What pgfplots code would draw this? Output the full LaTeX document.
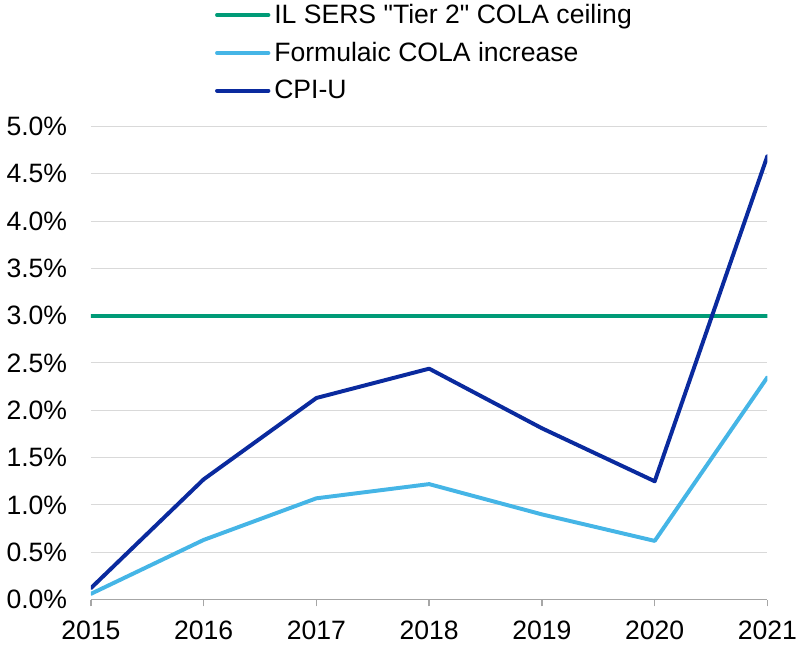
\documentclass[border=0pt]{standalone}
\usepackage{pgfplots}
\pgfplotsset{compat=1.18}
\usepackage{fontspec}
\setmainfont[Ligatures=TeXOff]{Liberation Sans}
\definecolor{cgreen}{HTML}{009B77}
\definecolor{clight}{HTML}{45B5E6}
\definecolor{cdark}{HTML}{0A2A9E}
\definecolor{cgrid}{HTML}{D9D9D9}
\definecolor{caxis}{HTML}{A6A6A6}
\begin{document}
\begin{tikzpicture}
\begin{axis}[
  scale only axis,
  width=342.5bp, height=239.5bp,
  xmin=2015, xmax=2021, ymin=0, ymax=5,
  xtick={2015,2016,2017,2018,2019,2020,2021},
  ytick={0,0.5,1,1.5,2,2.5,3,3.5,4,4.5,5},
  /pgf/number format/assume math mode=true,
  xticklabel style={/pgf/number format/1000 sep={}, font=\fontsize{13.5}{16}\selectfont, yshift=-4bp, inner xsep=1bp},
  yticklabel={\pgfmathprintnumber[fixed,fixed zerofill,precision=1]{\tick}\%},
  yticklabel style={font=\fontsize{13.5}{16}\selectfont, xshift=-5bp},
  axis x line*=bottom, axis y line*=left,
  y axis line style={draw=none},
  x axis line style={draw=caxis, line width=0.75bp},
  ytick style={draw=none},
  xtick style={draw=caxis, line width=0.75bp},
  tick align=outside, major tick length=3.5bp,
  ymajorgrids, grid style={draw=cgrid, line width=0.5bp},
  legend style={draw=none, fill=none, at={(0.183,1.268)}, anchor=north west,
    font=\fontsize{13.5}{16}\selectfont, row sep=4bp, inner sep=0pt,
    cells={anchor=west}},
  legend cell align=left,
  legend image code/.code={\draw[#1, line cap=round] (0bp,0bp) -- (26bp,0bp);},
  every axis plot/.append style={line width=2bp, line cap=round, line join=round},
]
\addplot[cgreen] coordinates {(2015,3) (2016,3) (2017,3) (2018,3) (2019,3) (2020,3) (2021,3)};
\addlegendentry{IL SERS "Tier 2" COLA ceiling}
\addplot[clight] coordinates {(2015,0.06) (2016,0.63) (2017,1.07) (2018,1.22) (2019,0.90) (2020,0.62) (2021,2.35)};
\addlegendentry{Formulaic COLA increase}
\addplot[cdark] coordinates {(2015,0.12) (2016,1.27) (2017,2.13) (2018,2.44) (2019,1.81) (2020,1.25) (2021,4.69)};
\addlegendentry{CPI-U}
\end{axis}
\end{tikzpicture}
\end{document}
